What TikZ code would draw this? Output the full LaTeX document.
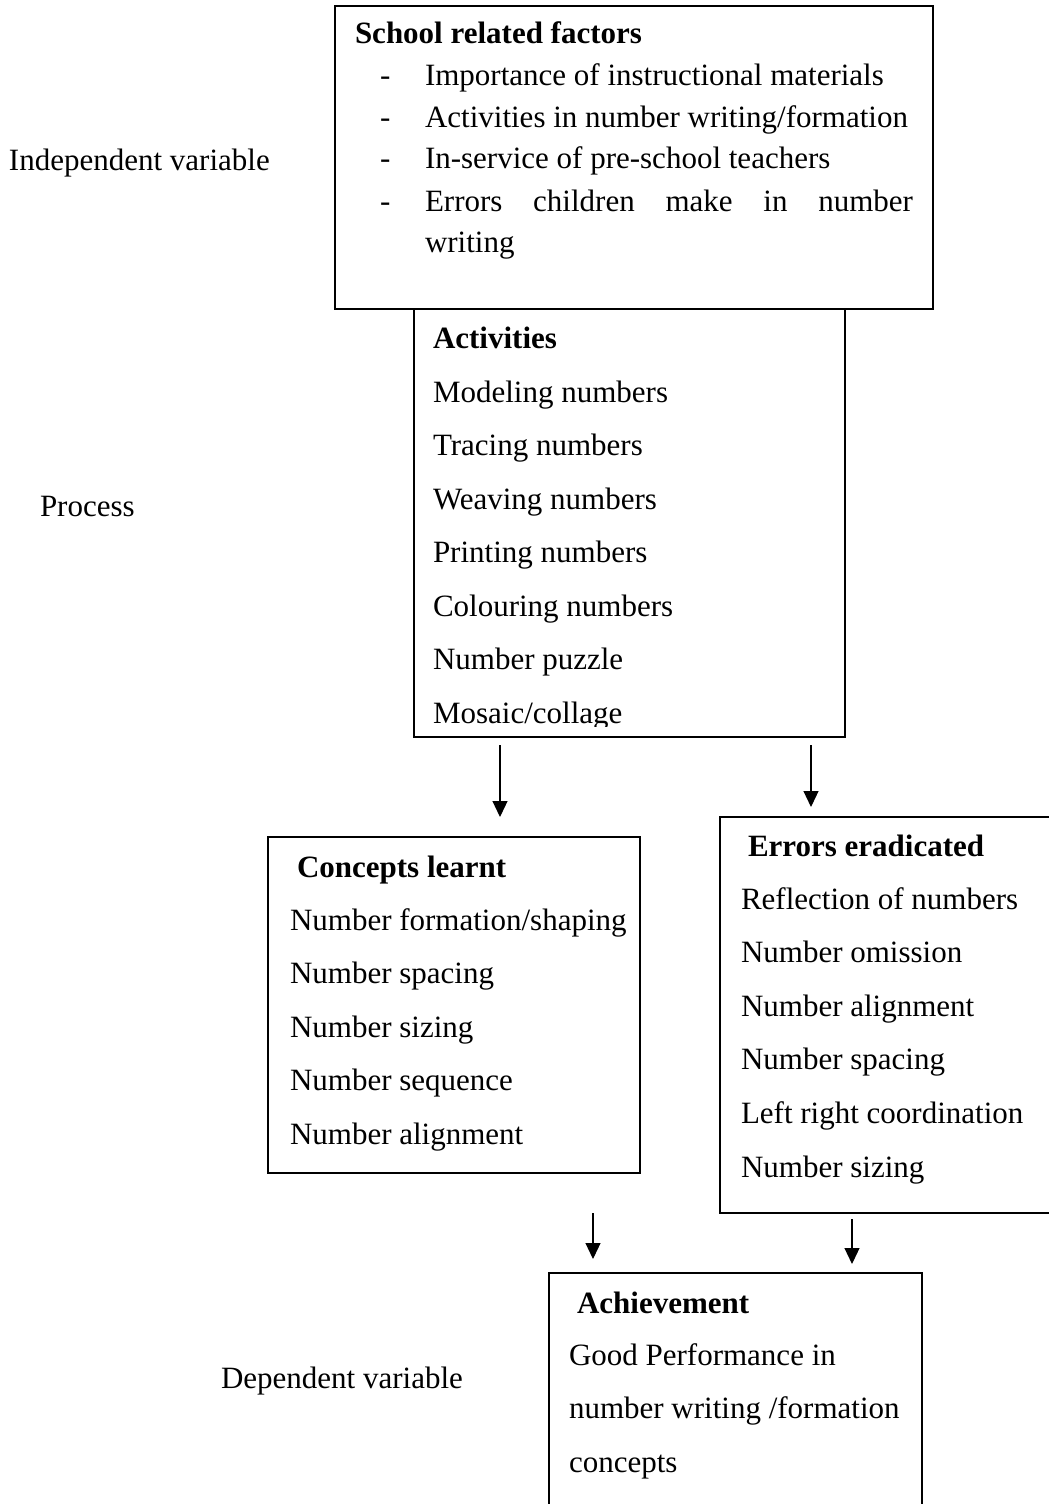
\documentclass[tikz,border=0pt]{standalone}
\usepackage{fontspec}
\setmainfont{Liberation Serif}
\usetikzlibrary{arrows.meta}
\begin{document}
\begin{tikzpicture}[x=0.5pt,y=-0.5pt,
  box/.style={draw, line width=0.8pt, inner sep=0pt, outer sep=0pt},
  txt/.style={anchor=base west, inner sep=0pt, outer sep=0pt, font=\fontsize{15.5pt}{18pt}\selectfont},
  ttl/.style={anchor=base west, inner sep=0pt, outer sep=0pt, font=\fontsize{15.5pt}{18pt}\selectfont\bfseries},
  arr/.style={line width=0.6pt, -{Triangle[length=8pt,width=7.5pt]}}]
\clip (0,0) rectangle (1049,1504);
\fill[white] (0,0) rectangle (1049,1504);

% side labels
\node[txt] (lind) at (9,170) {Independent variable};
\node[txt] (lproc) at (40,516) {Process};
\node[txt] (ldep) at (221,1388) {Dependent variable};

% boxes
\node[box, minimum width=299pt, minimum height=151.5pt] (sch) at (634,157.5) {};
\node[box, minimum width=215.5pt, minimum height=214pt] (act) at (629.5,523) {};
\node[box, minimum width=186pt, minimum height=168pt] (conc) at (454,1005) {};
\node[box, minimum width=170pt, minimum height=198pt] (err) at (890,1015) {};
\node[box, minimum width=186.5pt, minimum height=123.5pt] (ach) at (735.5,1396.5) {};

% school related factors
\node[ttl] (schT) at (355,44) {School related factors};
\foreach \y [count=\i] in {86,127,169,211}
  \node[txt] (dash\i) at (380,\y) {-};
\node[txt] (sch1) at (425,86) {Importance of instructional materials};
\node[txt] (sch2) at (425,127) {Activities in number writing/formation};
\node[txt] (sch3) at (425,169) {In-service of pre-school teachers};
\node[txt] (sch4) at (425,211) {\makebox[244pt][s]{Errors children make in number}};
\node[txt] (sch5) at (425,252) {writing};

% activities
\node[ttl] (actT) at (433,348) {Activities};
\begin{scope}
\clip (414,309) rectangle (845,726);
\foreach \t [count=\i from 0] in {Modeling numbers, Tracing numbers, Weaving numbers, Printing numbers, Colouring numbers, Number puzzle, Mosaic/collage}
  \node[txt] (act\i) at (433,{402+53.5*\i}) {\t};
\end{scope}

% concepts learnt
\node[ttl] (concT) at (297,877) {Concepts learnt};
\foreach \t [count=\i from 0] in {Number formation/shaping, Number spacing, Number sizing, Number sequence, Number alignment}
  \node[txt] (conc\i) at (290,{930+53.6*\i}) {\t};

% errors eradicated
\node[ttl] (errT) at (748,856) {Errors eradicated};
\foreach \t [count=\i from 0] in {Reflection of numbers, Number omission, Number alignment, Number spacing, Left right coordination, Number sizing}
  \node[txt] (err\i) at (741,{909+53.6*\i}) {\t};

% achievement
\node[ttl] (achT) at (577,1313) {Achievement};
\node[txt] (ach1) at (569,1365) {Good Performance in};
\node[txt] (ach2) at (569,1418) {number writing /formation};
\node[txt] (ach3) at (569,1472) {concepts};

% connectors
\coordinate (xa) at (500,0);
\coordinate (xb) at (811,0);
\coordinate (xc) at (593,0);
\coordinate (xd) at (852,0);
\draw[arr, shorten <=4pt, shorten >=10pt] (act.south -| xa) -- (conc.north -| xa);
\draw[arr, shorten <=4pt, shorten >=5pt] (act.south -| xb) -- (err.north -| xb);
\draw[arr, shorten <=20pt, shorten >=7pt] (conc.south -| xc) -- (ach.north -| xc);
\draw[arr, shorten <=3pt, shorten >=4.5pt] (err.south -| xd) -- (ach.north -| xd);
\end{tikzpicture}
\end{document}
